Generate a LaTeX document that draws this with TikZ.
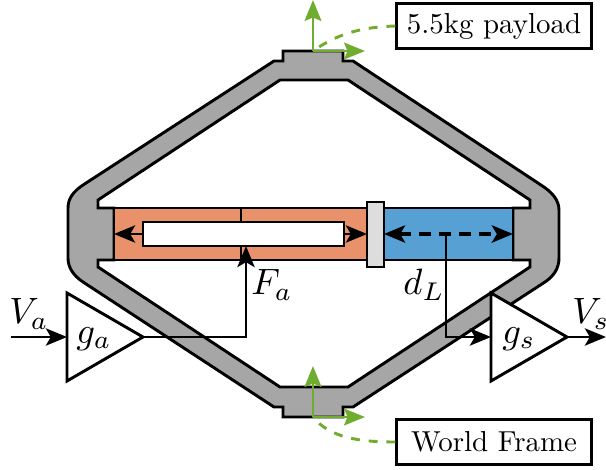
\documentclass[tikz,border=0pt]{standalone}
\usetikzlibrary{arrows.meta}
\definecolor{frame}{HTML}{A6A6A6}
\definecolor{coil}{HTML}{E8916A}
\definecolor{sensor}{HTML}{56A0D3}
\definecolor{slider}{HTML}{DDDDDD}
\definecolor{axis}{HTML}{70AD2F}
\tikzset{
  line/.style={line width=1.05pt, line join=miter},
  sig/.style={line, -{Stealth[length=7.6pt,width=6.2pt,inset=1.8pt]}},
  green/.style={axis, line width=1.05pt, -{Stealth[length=7.5pt,width=6pt,inset=1.2pt]}},
  greendash/.style={axis, line width=1.05pt, dash pattern=on 3.2pt off 3.2pt},
  tagbox/.style={draw, line width=1.05pt, fill=white, minimum width=70pt, minimum height=16.2pt, inner sep=0pt, font=\fontsize{10.4}{12}\selectfont},
  gain/.style={line, fill=white},
  lab/.style={scale=1.32, inner sep=0pt}
}
\begin{document}
\begin{tikzpicture}[x=0.36pt, y=-0.36pt]
  \useasboundingbox (0,0) rectangle (606,470);
  % frame
  \draw[line, fill=frame, even odd rule]
    (283,51) -- (343,51) -- (343,61) -- (353,61) -- (541,185)
    .. controls (552,192) and (559,200) .. (559,210) -- (559,258)
    .. controls (559,268) and (554,276) .. (545,282) -- (353,407) -- (343,407) -- (343,417)
    -- (283,417) -- (283,407) -- (274,407) -- (83,282)
    .. controls (74,276) and (68,268) .. (68,258) -- (68,208)
    .. controls (68,198) and (74,191) .. (83,185) -- (274,61) -- (283,61) -- cycle
    (280,80) -- (348,80) -- (530,200) -- (530,208) -- (513,208) -- (513,260) -- (530,260)
    -- (530,267) -- (348,387) -- (280,387) -- (98,267) -- (98,260) -- (114,260) -- (114,208)
    -- (98,208) -- (98,200) -- cycle;
  % actuator
  \draw[line, fill=coil] (114,208) rectangle (367,260);
  \draw[line, fill=sensor] (384,208) rectangle (513,260);
  \draw[line, fill=white] (143,222) rectangle (344,246);
  \draw[line] (241,208) -- (241,222) (241,246) -- (241,260);
  \draw[line, fill=slider] (367,202) rectangle (384,267);
  \coordinate (magL) at (143,234);
  \coordinate (magR) at (344,234);
  \coordinate (wallL) at (114,234);
  \coordinate (plateL) at (367,234);
  \coordinate (plateR) at (384,234);
  \coordinate (wallR) at (513,234);
  \coordinate (tap) at (446,234);
  \coordinate (force) at (246,246);
  \draw[sig] (magL) -- (wallL);
  \draw[sig] (magR) -- (plateL);
  \draw[sig, line width=1.3pt, {Stealth[length=7.6pt,width=6.2pt,inset=1.8pt]}-{Stealth[length=7.6pt,width=6.2pt,inset=1.8pt]}, dash pattern=on 4.4pt off 2.8pt] (plateR) -- (wallR);
  % amplifiers
  \draw[gain] (67,293) -- (143,337) -- (67,381) -- cycle;
  \draw[gain] (491,293) -- (567,337) -- (491,381) -- cycle;
  \node[lab] (ga) at (94,339) {$g_a$};
  \node[lab] (gs) at (519,339) {$g_s$};
  \coordinate (gaIn) at (67,337);
  \coordinate (gaOut) at (143,337);
  \coordinate (gsIn) at (491,337);
  \coordinate (gsOut) at (567,337);
  \coordinate (Vain) at (11,337);
  \coordinate (Vsout) at (606,337);
  \draw[sig] (Vain) -- (gaIn);
  \draw[sig] (gaOut) -| (force);
  \draw[sig] (tap) |- (gsIn);
  \draw[sig] (gsOut) -- (Vsout);
  \node[lab] (Va) at (29,314) {$V_a$};
  \node[lab] (Vs) at (591,314) {$V_s$};
  \node[lab] (Fa) at (272,285) {$F_a$};
  \node[lab] (dL) at (424,285) {$d_L$};
  % frames
  \coordinate (top) at (313,51);
  \coordinate (topY) at (313,0);
  \coordinate (topX) at (365,51);
  \coordinate (bot) at (313,417);
  \coordinate (botY) at (313,366);
  \coordinate (botX) at (365,417);
  \node[tagbox] (payload) at (494,26) {5.5kg payload};
  \node[tagbox] (world) at (494,442) {World Frame};
  \draw[greendash] (payload.west) .. controls (365,27) and (340,32) .. (top);
  \draw[greendash] (world.west) .. controls (360,442) and (330,438) .. (bot);
  \draw[green] (top) -- (topY);
  \draw[green] (top) -- (topX);
  \draw[green] (bot) -- (botY);
  \draw[green] (bot) -- (botX);
\end{tikzpicture}
\end{document}
